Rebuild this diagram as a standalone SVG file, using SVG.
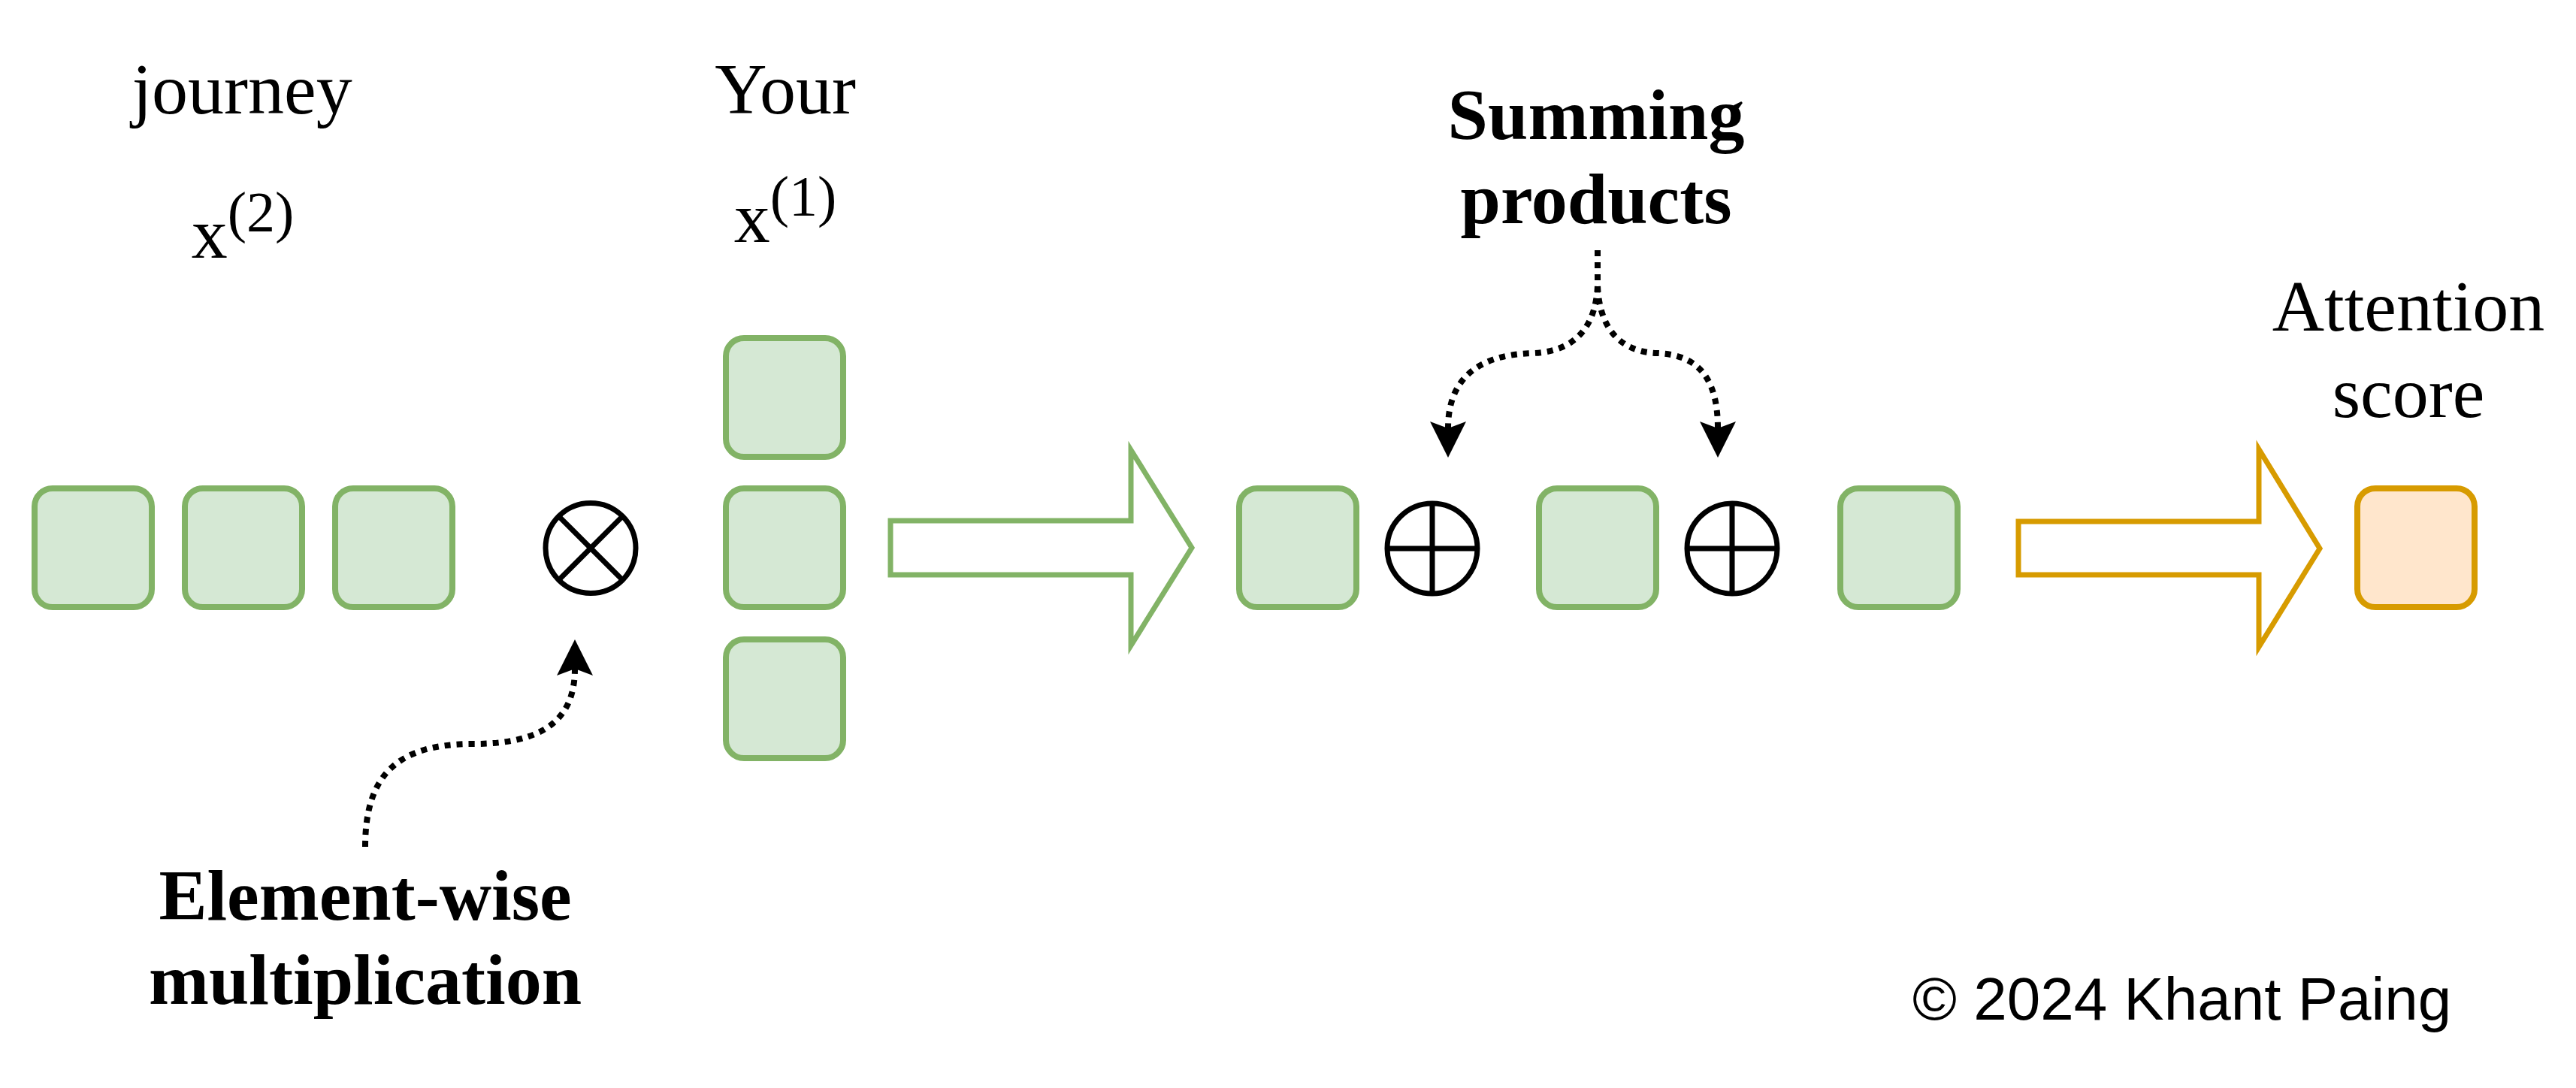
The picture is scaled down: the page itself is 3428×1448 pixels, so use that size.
<svg xmlns="http://www.w3.org/2000/svg" width="3428" height="1448" viewBox="0 0 3428 1448">
<style>
.g{fill:#d5e8d4;stroke:#82b366;stroke-width:8}
.o{fill:#ffe6cc;stroke:#d79b00;stroke-width:8}
.op{fill:#ffffff;stroke:#000000;stroke-width:7}
.t{font-family:"Liberation Serif","Times New Roman",serif;font-size:96px;fill:#000;text-anchor:middle}
.b{font-weight:bold}
.c{font-family:"Liberation Sans",Arial,sans-serif;font-size:80px;fill:#000}
.dot{fill:none;stroke:#000;stroke-width:8;stroke-dasharray:8 8}
</style>
<defs>
<marker id="ah" markerUnits="userSpaceOnUse" markerWidth="60" markerHeight="60" refX="9" refY="0" viewBox="0 -30 60 60" orient="auto" overflow="visible">
<path d="M48 0 L0 -24 L9 0 L0 24 Z" fill="#000"/>
</marker>
</defs>
<rect width="3428" height="1448" fill="#ffffff"/>
<g id="label-journey"><text class="t" x="322" y="151">journey</text></g>
<g id="label-x2"><text class="t" x="323" y="343">x<tspan font-size="76" dy="-35">(2)</tspan></text></g>
<g id="label-your"><text class="t" x="1045" y="151">Your</text></g>
<g id="label-x1"><text class="t" x="1045" y="322">x<tspan font-size="76" dy="-35">(1)</tspan></text></g>
<g id="label-summing"><text class="t b" x="2124" y="185">Summing</text><text class="t b" x="2124" y="297">products</text></g>
<g id="label-attention"><text class="t" x="3205" y="440">Attention</text><text class="t" x="3205" y="555">score</text></g>
<g id="label-elementwise"><text class="t b" x="486" y="1224">Element-wise</text><text class="t b" x="486" y="1336">multiplication</text></g>
<g id="copyright"><text class="c" x="2545" y="1357">© 2024 Khant Paing</text></g>
<g id="row-x2">
<rect id="x2-a" class="g" x="46" y="650" width="156" height="158" rx="24"/>
<rect id="x2-b" class="g" x="246" y="650" width="156" height="158" rx="24"/>
<rect id="x2-c" class="g" x="446" y="650" width="156" height="158" rx="24"/>
</g>
<g id="otimes">
<circle class="op" cx="786" cy="729.5" r="60"/>
<path d="M743.6 687.1 L828.4 771.9 M828.4 687.1 L743.6 771.9" stroke="#000" stroke-width="7"/>
</g>
<g id="col-x1">
<rect id="x1-a" class="g" x="966" y="450" width="156" height="158" rx="24"/>
<rect id="x1-b" class="g" x="966" y="650" width="156" height="158" rx="24"/>
<rect id="x1-c" class="g" x="966" y="851" width="156" height="158" rx="24"/>
</g>
<g id="arrow-green"><polygon points="1185,693 1505,693 1505,599 1586,729 1505,859 1505,765 1185,765" fill="#ffffff" stroke="#82b366" stroke-width="7"/></g>
<g id="prod-a"><rect class="g" x="1649" y="650" width="156" height="158" rx="24"/></g>
<g id="oplus-1">
<circle class="op" cx="1906" cy="730" r="60"/>
<path d="M1846 730 H1966 M1906 670 V790" stroke="#000" stroke-width="7"/>
</g>
<g id="prod-b"><rect class="g" x="2048" y="650" width="156" height="158" rx="24"/></g>
<g id="oplus-2">
<circle class="op" cx="2305" cy="730" r="60"/>
<path d="M2245 730 H2365 M2305 670 V790" stroke="#000" stroke-width="7"/>
</g>
<g id="prod-c"><rect class="g" x="2449" y="650" width="156" height="158" rx="24"/></g>
<g id="arrow-orange"><polygon points="2686,694 3006,694 3006,598 3087,730 3006,861 3006,765 2686,765" fill="#ffffff" stroke="#d79b00" stroke-width="7"/></g>
<g id="score"><rect class="o" x="3137" y="650" width="156" height="158" rx="24"/></g>
<g id="connectors">
<path class="dot" d="M486 1127 C486 1030 530 990 630 990 C720 990 765 960 765 890" marker-end="url(#ah)"/>
<path class="dot" d="M2126 333 V380 C2124 430 2100 468 2040 470 C1960 472 1927 510 1927 570" marker-end="url(#ah)"/>
<path class="dot" d="M2126 333 V380 C2128 430 2150 468 2205 470 C2265 472 2286 510 2286 570" marker-end="url(#ah)"/>
</g>
</svg>
